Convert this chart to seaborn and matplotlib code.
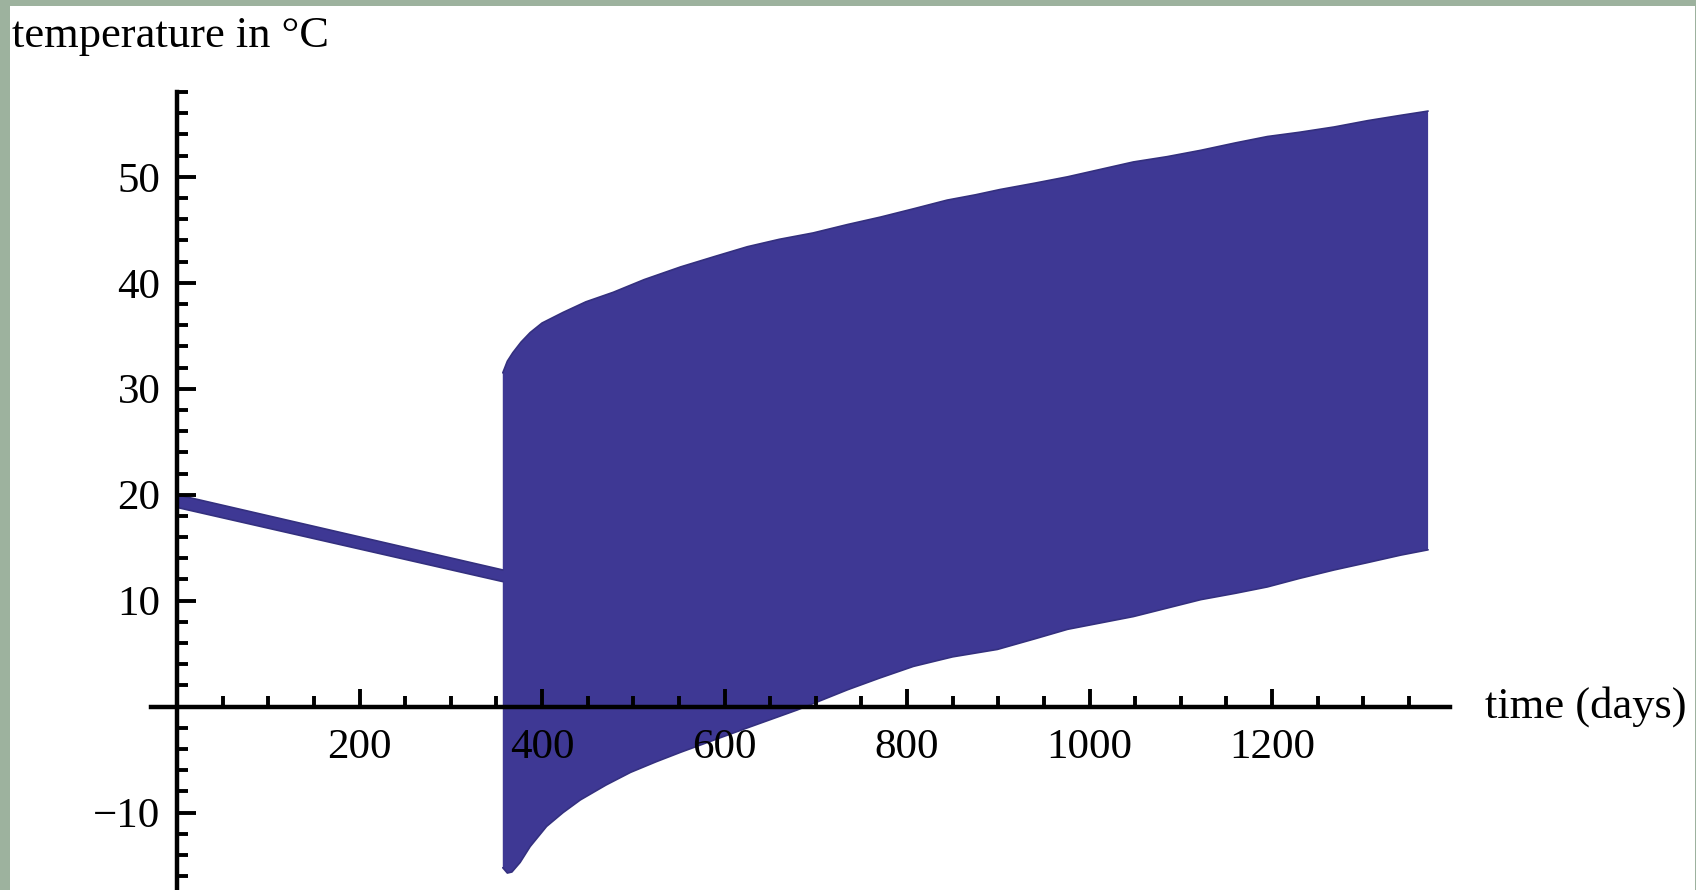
import matplotlib
matplotlib.use("Agg")
import matplotlib.pyplot as plt
from matplotlib.patches import Rectangle
from matplotlib.ticker import FixedLocator
import pandas as pd
import seaborn as sns

# Temperature trace: narrow daily swing during the first year, then a wide swing
# whose upper and lower envelopes both drift upward.
early_days = [0, 357]
early_high = [20.0, 12.9]
early_low = [18.8, 11.8]

late_days_high = [357, 362, 368, 377, 387, 400, 423, 448, 478, 512, 552, 590,
                  625, 660, 697, 735, 771, 808, 844, 875, 902, 940, 976, 1012,
                  1048, 1085, 1122, 1160, 1195, 1230, 1268, 1305, 1341, 1371]
late_high = [31.5, 32.6, 33.4, 34.4, 35.3, 36.2, 37.2, 38.2, 39.1, 40.3, 41.5,
             42.5, 43.4, 44.1, 44.7, 45.5, 46.2, 47.0, 47.8, 48.3, 48.8, 49.4,
             50.0, 50.7, 51.4, 51.9, 52.5, 53.2, 53.8, 54.2, 54.7, 55.3, 55.8,
             56.2]

late_days_low = [357, 362, 367, 376, 387, 405, 423, 442, 470, 497, 525, 552,
                 590, 625, 680, 735, 770, 807, 850, 899, 940, 976, 1012, 1048,
                 1085, 1122, 1160, 1195, 1230, 1268, 1305, 1341, 1371]
late_low = [-15.2, -15.7, -15.6, -14.7, -13.2, -11.3, -10.0, -8.8, -7.4, -6.2,
            -5.2, -4.3, -3.1, -2.0, -0.3, 1.6, 2.7, 3.8, 4.7, 5.4, 6.4, 7.3,
            7.9, 8.5, 9.3, 10.1, 10.7, 11.3, 12.1, 12.9, 13.6, 14.3, 14.8]

x_major = [200, 400, 600, 800, 1000, 1200]
y_major = [-10, 10, 20, 30, 40, 50]
x_label = "time (days)"
y_label = "temperature in °C"

BAND = "#3e3894"
FRAME = "#9db29e"

sns.set_theme(style="white")
plt.rcParams["font.family"] = ["Liberation Serif", "DejaVu Serif"]
plt.rcParams["axes.unicode_minus"] = True

W, H = 1696, 890
fig = plt.figure(figsize=(W / 100, H / 100), dpi=100, facecolor=FRAME)
fig.patches.append(Rectangle((10 / W, 0), (1695 - 10) / W, (H - 6) / H,
                             transform=fig.transFigure, facecolor="white",
                             edgecolor="none", zorder=-1))

ax = fig.add_axes([151 / W, 0, (1450 - 151) / W, (H - 92) / H])
ax.set_facecolor("white")
ax.set_xlim(-28.5, 1395)
ax.set_ylim(-17.3, 58.0)

# outline of the band as one closed polygon
poly_x = (early_days + late_days_high + late_days_low[::-1] + early_days[::-1])
poly_y = (early_high + late_high + late_low[::-1] + early_low[::-1])
ax.fill(poly_x, poly_y, color=BAND, linewidth=0, zorder=1)

edges = pd.concat([
    pd.DataFrame({"day": early_days, "temp": early_high, "edge": "eh"}),
    pd.DataFrame({"day": early_days, "temp": early_low, "edge": "el"}),
    pd.DataFrame({"day": late_days_high, "temp": late_high, "edge": "lh"}),
    pd.DataFrame({"day": late_days_low, "temp": late_low, "edge": "ll"}),
])
sns.lineplot(data=edges, x="day", y="temp", units="edge", estimator=None,
             sort=False, color="#34307f", linewidth=1.2, ax=ax, zorder=1.2,
             legend=False)

ax.set_xlabel("")
ax.set_ylabel("")

# axes crossing at the origin
for side in ("top", "right"):
    ax.spines[side].set_visible(False)
ax.spines["left"].set_position(("data", 0))
ax.spines["bottom"].set_position(("data", 0))
for side in ("left", "bottom"):
    ax.spines[side].set_linewidth(3.2)
    ax.spines[side].set_color("black")
    ax.spines[side].set_zorder(3)
ax.set_axisbelow(False)

ax.xaxis.set_major_locator(FixedLocator(x_major))
ax.xaxis.set_minor_locator(FixedLocator([d for d in range(50, 1400, 50) if d not in x_major]))
ax.yaxis.set_major_locator(FixedLocator(y_major))
ax.yaxis.set_minor_locator(FixedLocator([v for v in range(-16, 59, 2) if v not in y_major and v != 0]))

ax.tick_params(axis="x", which="both", bottom=True, top=False, direction="in",
               width=2.8, colors="black")
ax.tick_params(axis="y", which="both", left=True, right=False, direction="in",
               width=2.8, colors="black")
ax.tick_params(axis="x", which="major", length=13, pad=15.5, labelsize=31)
ax.tick_params(axis="x", which="minor", length=8)
ax.tick_params(axis="y", which="major", length=14, pad=12, labelsize=31)
ax.tick_params(axis="y", which="minor", length=8)
ax.set_xticklabels([str(v) for v in x_major])
ax.set_yticklabels([("\u2212" + str(-v)) if v < 0 else str(v) for v in y_major])
for t in ax.get_xticklabels() + ax.get_yticklabels():
    t.set_zorder(3)

ax.annotate(x_label, xy=(1.0, 0), xycoords=("axes fraction", "data"),
            xytext=(35, 0), textcoords="offset pixels", ha="left",
            va="center", fontsize=32, color="black", annotation_clip=False)
fig.text(12 / W, 1 - 47 / H, y_label, ha="left", va="baseline",
         fontsize=32, color="black")

fig.savefig("out.png", dpi=100, facecolor=fig.get_facecolor())
